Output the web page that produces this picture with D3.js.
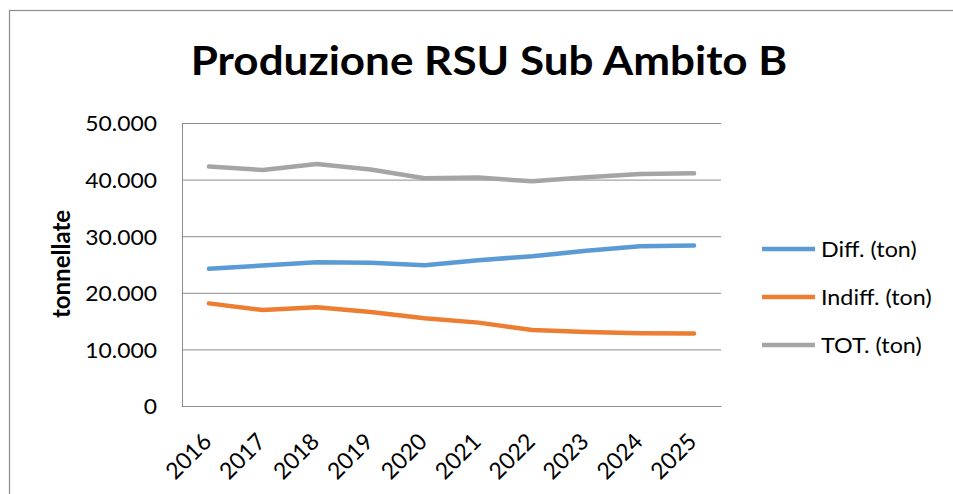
<!DOCTYPE html>
<html>
<head>
<meta charset="utf-8">
<script src="https://cdn.jsdelivr.net/npm/d3@7"></script>
<style>
  body { margin: 0; background: #fff; }
  text { font-family: Lato, "Open Sans", sans-serif; }
</style>
</head>
<body>
<div id="chart"></div>
<script>
const years = ['2016', '2017', '2018', '2019', '2020', '2021', '2022', '2023', '2024', '2025']
const diff = [24240, 24820, 25400, 25300, 24880, 25760, 26460, 27410, 28220, 28350]
const indiff = [18130, 16950, 17430, 16600, 15490, 14730, 13430, 13080, 12850, 12800]
const tot = [42300, 41700, 42750, 41800, 40250, 40350, 39700, 40400, 41000, 41100]
const yTicks = [0, 10000, 20000, 30000, 40000, 50000]
const seriesNames = ['Diff. (ton)', 'Indiff. (ton)', 'TOT. (ton)']
const colors = ['#5b9bd5', '#ed7d31', '#a5a5a5']

const width = 953
const height = 494
const margin = {top: 123, left: 182, right: 232, bottom: 88}

const it = d3.formatLocale({decimal: ',', thousands: '.', grouping: [3], currency: ['€', '']})
const fmt = it.format(',')

// the reference text is a bit wider than Lato, so widen it a little
function stretch(k) {
    return sel => sel.each(function () {
        const w = this.getComputedTextLength()
        d3.select(this).attr('textLength', w * k).attr('lengthAdjust', 'spacingAndGlyphs')
    })
}

const svg = d3.select('#chart').append('svg')
    .attr('width', width)
    .attr('height', height)

svg.append('rect')
    .attr('x', 9.5).attr('y', 10.5)
    .attr('width', 1200).attr('height', 1200)
    .attr('fill', '#fff')
    .attr('stroke', '#8c8c8c')
    .attr('stroke-width', 1.2)

const x = d3.scaleBand()
    .domain(years)
    .range([margin.left, width - margin.right])

const y = d3.scaleLinear()
    .domain([0, 50000])
    .range([height - margin.bottom, margin.top])

// gridlines
svg.append('g')
    .attr('transform', `translate(${margin.left},0)`)
    .call(d3.axisLeft(y).tickValues(yTicks).tickSize(-(width - margin.left - margin.right)).tickFormat(''))
    .call(g => g.select('.domain').remove())
    .selectAll('line')
    .attr('stroke', '#8c8c8c')

// y axis
const yAxis = svg.append('g')
    .attr('transform', `translate(${margin.left},0)`)
    .call(d3.axisLeft(y).tickValues(yTicks).tickSize(0).tickPadding(25).tickFormat(fmt))
yAxis.select('.domain').attr('stroke', '#8c8c8c')
yAxis.selectAll('text')
    .attr('font-size', 22)
    .attr('fill', '#000')
    .attr('font-family', 'Lato')
    .attr('dy', '0.36em')
    .call(stretch(1.04))

// x axis
const xAxis = svg.append('g')
    .attr('transform', `translate(0,${height - margin.bottom})`)
    .call(d3.axisBottom(x).tickSize(0).tickFormat(d => d))
xAxis.select('.domain').attr('stroke', '#8c8c8c')
xAxis.selectAll('text')
    .attr('font-size', 23)
    .attr('font-family', 'Lato')
    .attr('fill', '#000')
    .attr('text-anchor', 'end')
    .attr('x', 0).attr('y', 0).attr('dy', 0)
    .attr('transform', 'translate(4,37) rotate(-45)')

// lines
const series = [diff, indiff, tot]
const line = d3.line()
    .x((d, i) => x(years[i]) + x.bandwidth() / 2)
    .y(d => y(d))

svg.selectAll('.series').data(series).enter()
    .append('path')
    .attr('class', 'series')
    .attr('d', line)
    .attr('fill', 'none')
    .attr('stroke', (d, i) => colors[i])
    .attr('stroke-width', 4.5)
    .attr('stroke-linecap', 'round')
    .attr('stroke-linejoin', 'round')

// title
svg.append('text')
    .attr('x', 489).attr('y', 75)
    .attr('text-anchor', 'middle')
    .attr('font-size', 40)
    .attr('font-weight', 'bold')
    .text('Produzione RSU Sub Ambito B')
    .call(stretch(1.1))

// y axis title
svg.append('text')
    .attr('transform', 'translate(70,264) rotate(-90)')
    .attr('text-anchor', 'middle')
    .attr('font-size', 24)
    .attr('font-weight', 'bold')
    .text('tonnellate')

// legend
const legend = svg.selectAll('.legend').data(seriesNames).enter()
    .append('g')
    .attr('class', 'legend')
    .attr('transform', (d, i) => `translate(762,${249 + i * 48})`)
legend.append('line')
    .attr('x1', 0).attr('x2', 53)
    .attr('stroke', (d, i) => colors[i])
    .attr('stroke-width', 4.5)
legend.append('text')
    .attr('x', 59)
    .attr('dy', '0.36em')
    .attr('font-size', 22)
    .text(d => d)
    .call(stretch(1.06))
</script>
</body>
</html>
